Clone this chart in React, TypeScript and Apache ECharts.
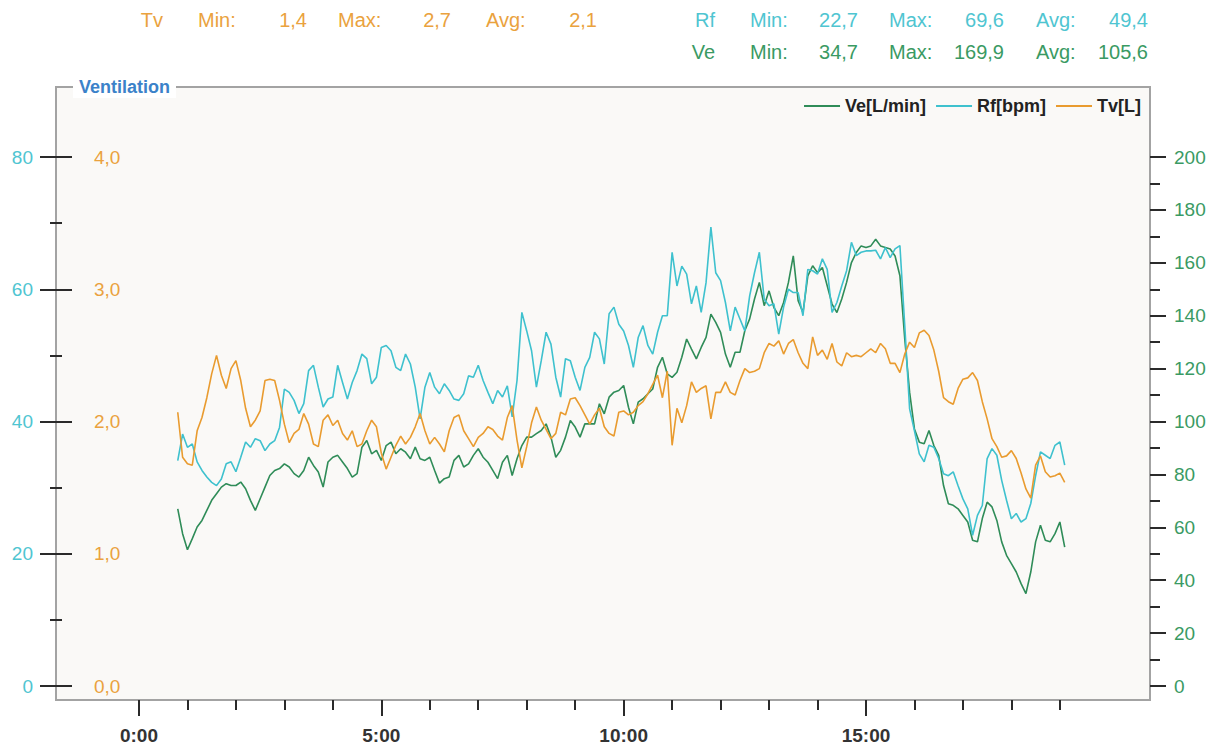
import React, { useEffect, useRef } from "react";
import * as echarts from "echarts";

// Sampling of the recording: minutes from start, one value every 0.1 min
const SAMPLE_START_MIN = 0.8;
const SAMPLE_STEP_MIN = 0.1;

// Ve [L/min] (right axis)
const veValues = [
  67.0, 57.6, 51.5, 55.7, 60.1, 62.6, 66.4, 70.2, 72.7, 75.2,
  76.5, 75.8, 75.8, 77.1, 74.6, 70.2, 66.4, 70.8, 75.2, 79.6,
  81.5, 82.2, 84.0, 82.8, 80.3, 79.0, 81.5, 86.5, 83.4, 80.9,
  75.2, 84.7, 86.5, 87.2, 84.7, 82.2, 79.0, 80.3, 90.3, 92.8,
  87.8, 89.1, 85.3, 90.9, 92.2, 87.8, 89.7,
  88.4, 85.9, 90.3, 85.9, 85.3, 86.5, 81.5, 76.7, 78.4, 79.0,
  85.3, 87.2, 82.8, 84.0, 87.2, 89.7, 86.5, 84.6, 81.5, 78.4,
  84.6, 87.2, 79.6, 85.9, 90.9, 94.1, 94.1, 95.4, 96.6, 99.1,
  94.1, 86.5, 89.1, 94.1, 100.4, 97.9, 94.1, 99.1, 99.1, 99.1,
  106.7, 102.9, 109.2, 111.1, 111.7, 113.6, 105.4, 99.1, 107.3,
  108.6, 110.5, 112.3, 120.5, 124.3, 118.0, 116.7, 118.6, 124.3, 131.2,
  127.4, 123.7, 128.0, 131.8, 140.6, 137.5, 133.7, 125.5, 120.5, 126.2,
  126.2, 134.3, 138.8, 146.3, 152.6, 143.8, 149.4, 143.1, 140.0, 145.0,
  152.6, 162.6, 145.7, 141.2, 155.1, 158.9, 156.3, 158.2, 151.3, 144.4,
  141.2, 146.3, 152.6, 160.1, 163.9, 166.4, 165.8,
  166.4, 168.9, 166.4, 165.8, 165.2, 162.6, 155.1, 131.2, 111.1, 97.2,
  92.2, 91.6, 96.6, 90.9, 87.2, 75.8, 68.9, 68.3, 67.0, 64.5,
  62.0, 55.1, 54.5, 63.3, 69.5, 67.7, 62.6, 54.5, 49.4, 46.3,
  43.1, 38.7, 34.9, 43.1, 54.5, 60.8, 55.1, 54.5, 57.6, 62.0,
  52.5,
];

// Rf [bpm] (left axis, outer labels)
const rfValues = [
  34.1, 38.1, 36.1, 36.6, 33.9, 32.6, 31.6, 30.8, 30.3, 31.3,
  33.6, 33.9, 32.4, 34.6, 36.9, 36.1, 37.4, 37.1, 35.6, 36.6,
  37.1, 39.1, 44.9, 44.4, 43.2, 41.2, 42.7, 47.7, 48.5, 45.2,
  42.2, 43.4, 43.7, 48.5, 45.9, 43.4, 45.9, 47.7, 50.2, 49.5,
  45.7, 46.7, 51.2, 51.5, 50.7, 48.2, 47.7,
  50.2, 48.7, 45.2, 40.4, 45.2, 47.4, 45.2, 44.2, 45.7, 44.7,
  43.4, 43.2, 44.2, 46.9, 46.7, 48.5, 46.2, 44.4, 42.7, 44.7,
  43.7, 45.4, 40.7, 46.2, 56.5, 53.7, 50.7, 45.2, 49.2, 53.5,
  51.7, 46.7, 43.7, 49.5, 49.2, 46.7, 44.7, 48.2, 49.7, 53.5,
  52.5, 48.7, 56.3, 57.3, 54.7, 53.7, 51.5, 48.2, 52.7,
  54.5, 51.5, 50.2, 53.5, 56.0, 56.0, 65.6, 60.5, 63.5, 62.3,
  57.8, 60.5, 56.5, 61.0, 69.4, 62.5, 61.3, 58.0, 53.7, 57.3,
  55.5, 53.7, 59.0, 62.5, 65.6, 58.5, 57.5, 57.8, 53.2, 57.3,
  60.0, 59.5, 59.5, 56.0, 63.0, 62.8, 62.3, 64.6, 63.0, 56.5,
  58.0, 60.5, 62.8, 67.1, 65.1, 65.6, 65.8,
  65.8, 65.9, 64.6, 66.3, 64.8, 66.1, 66.6, 54.5, 41.9, 38.6,
  35.1, 33.9, 36.4, 36.1, 34.4, 32.1, 31.8, 32.4, 30.3, 28.3,
  26.8, 22.8, 25.8, 27.3, 34.4, 35.9, 34.9, 31.1, 28.1, 25.3,
  26.1, 24.8, 25.3, 27.6, 31.8, 35.4, 34.9, 34.4, 36.4, 36.9,
  33.4,
];

// Tv [L] (left axis, inner labels)
const tvValues = [
  2.07, 1.73, 1.68, 1.67, 1.93, 2.03, 2.18, 2.36, 2.50, 2.35,
  2.25, 2.40, 2.46, 2.31, 2.10, 1.96, 2.01, 2.08, 2.31, 2.32,
  2.31, 2.16, 1.98, 1.84, 1.91, 1.94, 2.06, 1.98, 1.83, 1.81,
  2.01, 2.05, 1.97, 2.01, 1.91, 1.86, 1.93, 1.81, 1.83, 1.93,
  2.01, 1.96, 1.76, 1.64, 1.73, 1.82, 1.89,
  1.83, 1.88, 1.96, 2.06, 1.93, 1.83, 1.88, 1.83, 1.77, 1.93,
  2.03, 2.05, 1.93, 1.87, 1.81, 1.88, 1.91, 1.96, 1.94, 1.89,
  1.86, 2.03, 2.12, 1.86, 1.65, 1.81, 1.99, 2.11, 2.01, 1.94,
  1.87, 1.91, 2.07, 2.05, 2.17, 2.18, 2.12, 2.05, 1.98, 2.05,
  2.10, 1.96, 1.91, 1.89, 2.07, 2.08, 2.05, 2.07, 2.12,
  2.15, 2.21, 2.28, 2.35, 2.18, 2.38, 1.82, 2.10, 1.99, 2.12,
  2.30, 2.22, 2.25, 2.27, 2.02, 2.22, 2.22, 2.30, 2.22, 2.20,
  2.31, 2.40, 2.37, 2.38, 2.40, 2.52, 2.59, 2.57, 2.61, 2.51,
  2.59, 2.62, 2.52, 2.44, 2.40, 2.64, 2.50, 2.54, 2.47, 2.59,
  2.45, 2.42, 2.52, 2.49, 2.50, 2.49, 2.52,
  2.55, 2.52, 2.59, 2.55, 2.44, 2.44, 2.37, 2.51, 2.60, 2.56,
  2.67, 2.69, 2.65, 2.54, 2.38, 2.18, 2.15, 2.13, 2.25, 2.32,
  2.33, 2.37, 2.31, 2.15, 2.02, 1.87, 1.81, 1.73, 1.74, 1.78,
  1.72, 1.61, 1.49, 1.42, 1.67, 1.74, 1.62, 1.58, 1.59, 1.61,
  1.54,
];

const seriesNames = ["Ve[L/min]", "Rf[bpm]", "Tv[L]"];

// Axis ticks / labels
const xLabelMinutes = [0, 5, 10, 15];
const xTickMinutes = [0, 1, 2, 3, 4, 5, 6, 7, 8, 9, 10, 11, 12, 13, 14, 15, 16, 17, 18, 19];
const rfTicks = [0, 20, 40, 60, 80];
const rfMinorTicks = [10, 30, 50, 70];
const tvTicks = [0, 1, 2, 3, 4];
const veTicks = [0, 20, 40, 60, 80, 100, 120, 140, 160, 180, 200];
const veMinorTicks = [10, 30, 50, 70, 90, 110, 130, 150, 170, 190];

// Header statistics
const statLabels = ["Min:", "Max:", "Avg:"];
const tvStats = [1.4, 2.7, 2.1];
const rfStats = [22.7, 69.6, 49.4];
const veStats = [34.7, 169.9, 105.6];

const FONT = '"Liberation Sans", Arial, Helvetica, sans-serif';
const GREEN = "#2f8c58";
const CYAN = "#3ec1ce";
const ORANGE = "#e99b2f";
const GREEN_TXT = "#3a9a63";
const CYAN_TXT = "#4fc5d1";
const ORANGE_TXT = "#eaa23e";
const TICK = "#2a2a2a";

const fmt = (v: number) => v.toFixed(1).replace(".", ",");

function headerRow(
  name: string,
  stats: number[],
  color: string,
  y: number,
  xs: { nameR: number; lab: number[]; valR: number[] }
) {
  const font = `20px ${FONT}`;
  const els: any[] = [
    { type: "text", x: xs.nameR, y, style: { text: name, fill: color, font, align: "right", verticalAlign: "middle" } },
  ];
  stats.forEach((v, i) => {
    els.push({ type: "text", x: xs.lab[i], y, style: { text: statLabels[i], fill: color, font, align: "left", verticalAlign: "middle" } });
    els.push({ type: "text", x: xs.valR[i], y, style: { text: fmt(v), fill: color, font, align: "right", verticalAlign: "middle" } });
  });
  return els;
}

export default function App() {
  const ref = useRef<HTMLDivElement>(null);

  useEffect(() => {
    if (!ref.current) return;
    const chart = echarts.init(ref.current, undefined, { renderer: "svg" });

    const toPairs = (vals: number[]) =>
      vals.map((v, i) => [+(SAMPLE_START_MIN + i * SAMPLE_STEP_MIN).toFixed(2), v]);

    const X_MIN = -1.712;
    const X_MAX = 20.86;
    const RF_MIN = -2.117;
    const RF_MAX = 90.59;
    const TV_MIN = RF_MIN / 20;
    const TV_MAX = RF_MAX / 20;
    const VE_MIN = RF_MIN * 2.5;
    const VE_MAX = RF_MAX * 2.5;

    const tickLine = { color: TICK, width: 2 };
    const noSplit = { show: false };
    const noLine = { show: false, onZero: false };

    const leftXs = { nameR: 163, lab: [198, 338, 486], valR: [307, 451, 597] };
    const rightXs = { nameR: 715, lab: [750, 889, 1036], valR: [858, 1004, 1148] };

    const option: any = {
      animation: false,
      backgroundColor: "#ffffff",
      textStyle: { fontFamily: FONT },
      grid: {
        left: 56,
        right: 67,
        top: 87,
        bottom: 49,
        show: true,
        backgroundColor: "#faf9f7",
        borderColor: "#a3a3a3",
        borderWidth: 2,
      },
      legend: {
        data: seriesNames,
        right: 71,
        top: 92,
        icon: "rect",
        itemWidth: 36,
        itemHeight: 2,
        itemGap: 10,
        textStyle: { fontFamily: FONT, fontSize: 18, fontWeight: "bold", color: "#222" },
      },
      xAxis: [
        {
          type: "value",
          min: X_MIN,
          max: X_MAX,
          position: "bottom",
          axisLine: noLine,
          splitLine: noSplit,
          axisTick: { show: true, customValues: xTickMinutes, length: 10, lineStyle: tickLine },
          axisLabel: {
            show: true,
            customValues: xLabelMinutes,
            formatter: (v: number) => `${v}:00`,
            margin: 26,
            fontSize: 19,
            fontWeight: "bold",
            color: "#333",
            fontFamily: FONT,
          },
        },
        {
          type: "value",
          min: X_MIN,
          max: X_MAX,
          position: "bottom",
          axisLine: noLine,
          splitLine: noSplit,
          axisTick: { show: true, customValues: xLabelMinutes, length: 16, lineStyle: tickLine },
          axisLabel: { show: false },
        },
      ],
      yAxis: [
        {
          type: "value",
          position: "left",
          min: RF_MIN,
          max: RF_MAX,
          axisLine: noLine,
          splitLine: noSplit,
          axisTick: { show: true, customValues: rfTicks, length: 16, lineStyle: tickLine },
          axisLabel: { show: true, customValues: rfTicks, color: CYAN_TXT, fontSize: 19, margin: 23, fontFamily: FONT },
        },
        {
          type: "value",
          position: "left",
          min: TV_MIN,
          max: TV_MAX,
          axisLine: noLine,
          splitLine: noSplit,
          axisTick: { show: true, inside: true, customValues: tvTicks, length: 16, lineStyle: tickLine },
          axisLabel: {
            show: true,
            inside: true,
            customValues: tvTicks,
            formatter: (v: number) => fmt(v),
            color: ORANGE_TXT,
            fontSize: 19,
            margin: 38,
            fontFamily: FONT,
          },
        },
        {
          type: "value",
          position: "left",
          min: RF_MIN,
          max: RF_MAX,
          axisLine: noLine,
          splitLine: noSplit,
          axisTick: { show: true, customValues: rfMinorTicks, length: 6, lineStyle: tickLine },
          axisLabel: { show: false },
        },
        {
          type: "value",
          position: "left",
          min: RF_MIN,
          max: RF_MAX,
          axisLine: noLine,
          splitLine: noSplit,
          axisTick: { show: true, inside: true, customValues: rfMinorTicks, length: 6, lineStyle: tickLine },
          axisLabel: { show: false },
        },
        {
          type: "value",
          position: "right",
          min: VE_MIN,
          max: VE_MAX,
          axisLine: noLine,
          splitLine: noSplit,
          axisTick: { show: true, customValues: veTicks, length: 16, lineStyle: tickLine },
          axisLabel: { show: true, customValues: veTicks, color: GREEN_TXT, fontSize: 19, margin: 24, fontFamily: FONT },
        },
        {
          type: "value",
          position: "right",
          min: VE_MIN,
          max: VE_MAX,
          axisLine: noLine,
          splitLine: noSplit,
          axisTick: { show: true, customValues: veMinorTicks, length: 10, lineStyle: tickLine },
          axisLabel: { show: false },
        },
      ],
      series: [
        {
          name: seriesNames[0],
          type: "line",
          xAxisIndex: 0,
          yAxisIndex: 4,
          data: toPairs(veValues),
          symbol: "none",
          showSymbol: false,
          lineStyle: { color: GREEN, width: 1.6 },
          itemStyle: { color: GREEN },
        },
        {
          name: seriesNames[1],
          type: "line",
          xAxisIndex: 0,
          yAxisIndex: 0,
          data: toPairs(rfValues),
          symbol: "none",
          showSymbol: false,
          lineStyle: { color: CYAN, width: 1.6 },
          itemStyle: { color: CYAN },
        },
        {
          name: seriesNames[2],
          type: "line",
          xAxisIndex: 0,
          yAxisIndex: 1,
          data: toPairs(tvValues),
          symbol: "none",
          showSymbol: false,
          lineStyle: { color: ORANGE, width: 1.6 },
          itemStyle: { color: ORANGE },
        },
      ],
      graphic: [
        ...headerRow("Tv", tvStats, ORANGE_TXT, 20, leftXs),
        ...headerRow("Rf", rfStats, CYAN_TXT, 20, rightXs),
        ...headerRow("Ve", veStats, GREEN_TXT, 52, rightXs),
        {
          type: "text",
          x: 73,
          y: 87,
          z: 100,
          style: {
            text: "Ventilation",
            fill: "#3b82c9",
            font: `bold 18px ${FONT}`,
            backgroundColor: "#ffffff",
            padding: [2, 6, 2, 6],
            align: "left",
            verticalAlign: "middle",
          },
        },
      ],
    };

    chart.setOption(option);
    return () => chart.dispose();
  }, []);

  return (
    <div
      ref={ref}
      style={{ position: "fixed", left: 0, top: 0, width: 1217, height: 749, background: "#fff" }}
    />
  );
}
